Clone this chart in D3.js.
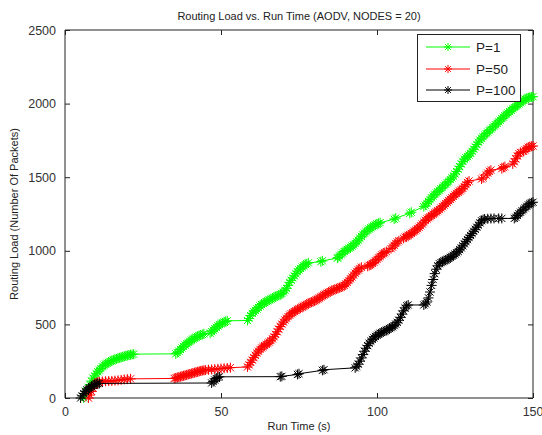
<!DOCTYPE html>
<html>
<head>
<meta charset="utf-8">
<script src="https://cdn.jsdelivr.net/npm/d3@7/dist/d3.min.js"></script>
<style>
  html, body { margin: 0; padding: 0; background: #fff; }
  svg { display: block; font-family: "Liberation Sans", Arial, sans-serif; }
</style>
</head>
<body>
<svg id="chart" width="542" height="435"></svg>
<script>
// Routing load (packets) sampled against simulation run time (s), one series per P value
const seriesNames = ["P=1", "P=50", "P=100"];
const seriesColors = ["#00ff00", "#ff0000", "#000000"];

const loadP1 = [
  [6,0],[6.5,20],[7,45],[7.5,70],[8,92],[8.5,115],[9,135],[9.5,150],[10,165],[10.5,178],[11,190],[11.5,200],
  [12,212],[12.5,222],[13,230],[13.5,236],[14,242],[14.5,248],[15,253],[15.5,258],[16,262],[16.5,266],[17,270],
  [17.5,273],[18,276],[18.5,280],[19,283],[19.5,286],[20,289],[20.5,291],[21,294],[21.5,296],[22,298],
  [35.5,300],[36,308],[36.5,318],[37,330],[37.5,340],[38,350],[38.5,360],[39,368],[39.5,376],[40,385],[40.5,393],
  [41,400],[41.5,407],[42,413],[42.5,418],[43,423],[43.5,428],[44,432],[44.5,436],
  [46.5,440],[47,450],[47.5,460],[48,470],[48.5,480],[49,490],[49.5,498],[50,505],[50.5,510],[51,515],[51.5,520],[52,524],
  [58.5,527],[59,540],[59.5,560],[60,575],[60.5,585],[61,595],[61.5,605],[62,615],[62.5,625],[63,635],[63.5,642],
  [64,648],[64.5,655],[65,660],[65.5,666],[66,672],[66.5,678],[67,684],[67.5,689],[68,694],[68.5,698],[69,702],
  [69.5,710],[70,720],[70.5,732],[71,745],[71.5,765],[72,785],[72.5,800],[73,815],[73.5,830],[74,845],[74.5,858],
  [75,870],[75.5,880],[76,890],[76.5,898],[77,906],[77.5,912],[78,918],
  [82,926],[82.5,932],[87.3,950],[87.5,955],[88,965],[88.5,975],[89,985],[89.5,995],[90,1003],[90.5,1010],
  [91,1017],[91.5,1024],[92,1032],[92.5,1040],[93,1050],[93.5,1060],[94,1072],[94.5,1085],[95,1098],[95.5,1110],
  [96,1120],[96.5,1130],[97,1140],[97.5,1148],[98,1156],[98.5,1163],[99,1170],[99.5,1176],[100,1182],[100.5,1187],[101,1191],
  [105.5,1215],[106,1222],[110.5,1255],[111,1262],
  [115,1300],[115.5,1310],[116,1322],[116.5,1335],[117,1348],[117.5,1360],[118,1372],[118.5,1383],[119,1393],
  [119.5,1402],[120,1412],[120.5,1422],[121,1432],[121.5,1442],[122,1452],[122.5,1462],[123,1472],[123.5,1484],
  [124,1496],[124.5,1508],[125,1522],[125.5,1538],[126,1555],[126.5,1572],[127,1590],[127.5,1608],[128,1622],
  [128.5,1632],[129,1640],[129.5,1650],[130,1662],[130.5,1676],[131,1690],[131.5,1706],[132,1722],[132.5,1738],
  [133,1752],[133.5,1764],[134,1775],[134.5,1786],[135,1796],[135.5,1806],[136,1816],[136.5,1826],[137,1836],
  [137.5,1846],[138,1856],[138.5,1866],[139,1876],[139.5,1888],[140,1898],[140.5,1908],[141,1918],[141.5,1928],
  [142,1937],[142.5,1946],[143,1955],[143.5,1964],[144,1973],[144.5,1981],[145,1990],[145.5,1998],[146,2006],
  [146.5,2014],[147,2022],[147.5,2030],[148,2036],[148.5,2040],[149,2043],[149.5,2045],[150,2047]
];

const loadP50 = [
  [7.5,0],[8,20],[8.5,45],[9,65],[9.5,85],[10,100],[10.5,108],[11,110],[12,112],[13,114],[14,115],[15,116],
  [16,118],[17,120],[18,123],[19,126],[20,128],[21,130],
  [35,133],[35.5,136],[36,139],[36.5,142],[37,145],[37.5,148],[38,151],[38.5,154],[39,157],[39.5,160],[40,163],
  [40.5,166],[41,169],[41.5,172],[42,175],[42.5,178],[43,181],[43.5,184],[44,186],[44.5,188],[45,190],[46,192],
  [47,194],[48,196],[49,198],[50,200],[51,202],[52,204],[53,206],
  [58.5,211],[59,225],[59.5,242],[60,258],[60.5,274],[61,290],[61.5,305],[62,318],[62.5,330],[63,340],[63.5,348],
  [64,356],[64.5,364],[65,372],[65.5,380],[66,390],[66.5,402],[67,416],[67.5,432],[68,450],[68.5,468],[69,486],
  [69.5,502],[70,516],[70.5,530],[71,542],[71.5,553],[72,563],[72.5,572],[73,580],[73.5,587],[74,594],[74.5,600],
  [75,606],[75.5,612],[76,618],[76.5,624],[77,630],[77.5,636],[78,642],[78.5,647],[79,651],[79.5,655],[80,660],
  [80.5,666],[81,672],[81.5,679],[82,686],[82.5,693],[83,700],[83.5,706],[84,712],[84.5,718],[85,723],[85.5,728],
  [86,733],[86.5,738],[87,742],[87.5,746],[88,750],[88.5,754],[89,758],[89.5,765],[90,775],[90.5,786],[91,798],
  [91.5,810],[92,822],[92.5,835],[93,848],[93.5,860],[94,870],[94.5,880],[95,888],
  [97,895],[97.5,900],[98,906],[98.5,914],[99,922],[99.5,932],[100,942],[100.5,952],[101,962],[101.5,972],
  [102,980],[102.5,988],[103,995],[104.5,1015],[105,1025],[105.5,1037],[106,1050],[106.5,1060],[107,1068],
  [108.5,1085],[109,1092],[109.5,1098],[110,1104],[110.5,1110],[111,1118],[111.5,1126],[112,1134],[112.5,1142],
  [113,1150],[113.5,1160],[114,1170],[114.5,1182],[115,1194],[115.5,1206],[116,1216],[116.5,1224],[117,1232],
  [117.5,1240],[118,1248],[118.5,1256],[119,1264],[119.5,1272],[120,1280],[120.5,1290],[121,1300],[121.5,1310],
  [122,1320],[122.5,1330],[123,1340],[123.5,1350],[124,1360],[124.5,1370],[125,1380],[125.5,1390],[126,1398],
  [126.5,1406],[127,1414],[127.5,1424],[128,1436],[128.5,1450],[129,1464],[129.5,1474],
  [133.5,1488],[134,1496],[135,1515],[135.5,1528],[136,1540],[136.5,1548],
  [140,1558],[140.5,1566],[141,1572],[143.5,1590],[144,1605],[144.5,1625],[145,1645],[145.5,1660],[146,1668],
  [147,1675],[147.5,1685],[148,1695],[148.5,1703],[149,1708],[149.5,1710],[150,1712]
];

const loadP100 = [
  [5,0],[5.5,15],[6,30],[6.5,45],[7,55],[7.5,62],[8,70],[8.5,78],[9,85],[9.5,92],[10,96],[10.5,98],[11,99],
  [47,102],[47.5,112],[48,122],[48.5,132],[49,140],[49.5,144],
  [69,145],[69.5,147],[74.5,160],[75,165],[82.5,188],[83,192],
  [93,205],[93.5,215],[94,230],[94.5,250],[95,272],[95.5,295],[96,318],[96.5,338],[97,356],[97.5,372],[98,386],
  [98.5,398],[99,408],[99.5,418],[100,426],[100.5,433],[101,440],[101.5,445],[102,450],[102.5,455],[103,460],
  [103.5,466],[104,472],[104.5,478],[105,484],[105.5,492],[106,502],[106.5,514],[107,528],[107.5,548],[108,570],
  [108.5,592],[109,612],[109.5,626],[110,632],
  [115,632],[115.5,640],[116,652],[116.5,680],[117,720],[117.5,765],[118,805],[118.5,845],[119,875],[119.5,898],
  [120,912],[120.5,920],[121,926],[121.5,932],[122,937],[122.5,942],[123,948],[123.5,955],[124,962],[124.5,970],
  [125,978],[125.5,987],[126,996],[126.5,1008],[127,1020],[127.5,1034],[128,1048],[128.5,1062],[129,1076],
  [129.5,1090],[130,1104],[130.5,1118],[131,1132],[131.5,1146],[132,1160],[132.5,1175],[133,1190],[133.5,1204],
  [134,1212],[134.5,1216],[135.5,1218],[136.5,1219],[137.5,1220],[139,1220],[140,1220],
  [144,1220],[144.5,1228],[145,1240],[145.5,1252],[146,1262],[146.5,1272],[147,1282],[147.5,1292],[148,1302],
  [148.5,1312],[149,1320],[149.5,1326],[150,1330]
];

const xTicks = [0, 50, 100, 150];
const yTicks = [0, 500, 1000, 1500, 2000, 2500];

const allSeries = [loadP1, loadP50, loadP100];

const svg = d3.select("#chart");
const margin = { left: 65, right: 533, top: 30, bottom: 398 };

const x = d3.scaleLinear().domain([0, 150]).range([margin.left, margin.right]);
const y = d3.scaleLinear().domain([0, 2500]).range([margin.bottom, margin.top]);

svg.append("rect")
  .attr("x", margin.left).attr("y", margin.top)
  .attr("width", margin.right - margin.left).attr("height", margin.bottom - margin.top)
  .attr("fill", "#fff");

const tickLen = 5;
const axisColor = "#222";

// Bottom axis with labels, inward ticks
const xAxis = svg.append("g")
  .attr("transform", `translate(0,${margin.bottom})`)
  .call(d3.axisBottom(x).tickValues(xTicks).tickSize(-tickLen).tickPadding(9).tickFormat(d3.format("d")));
// Left axis with labels, inward ticks
const yAxis = svg.append("g")
  .attr("transform", `translate(${margin.left},0)`)
  .call(d3.axisLeft(y).tickValues(yTicks).tickSize(-tickLen).tickPadding(9).tickFormat(d3.format("d")));
// Top and right axes: ticks only
const xTop = svg.append("g")
  .attr("transform", `translate(0,${margin.top})`)
  .call(d3.axisTop(x).tickValues(xTicks).tickSize(-tickLen).tickFormat(""));
const yRight = svg.append("g")
  .attr("transform", `translate(${margin.right},0)`)
  .call(d3.axisRight(y).tickValues(yTicks).tickSize(-tickLen).tickFormat(""));

[xAxis, yAxis, xTop, yRight].forEach(g => {
  g.select(".domain").attr("stroke", axisColor).attr("stroke-width", 1);
  g.selectAll(".tick line").attr("stroke", axisColor);
  g.selectAll(".tick text")
    .attr("fill", "#333")
    .style("font-family", "'Liberation Sans', Arial, sans-serif")
    .style("font-size", "12.5px");
});
// Keep the last x tick label inside the page
xAxis.selectAll(".tick text").filter(d => d === 150)
  .attr("text-anchor", "end").attr("dx", "0.8em");
xAxis.selectAll(".domain").attr("d", `M${margin.left},0H${margin.right}`);
yAxis.selectAll(".domain").attr("d", `M0,${margin.bottom}V${margin.top}`);
xTop.selectAll(".domain").attr("d", `M${margin.left},0H${margin.right}`);
yRight.selectAll(".domain").attr("d", `M0,${margin.bottom}V${margin.top}`);

// Star marker ('*'): a plus overlaid with an x
function starPath(cx, cy, r) {
  const d = r * 0.72;
  return `M${cx - r},${cy}h${2 * r}M${cx},${cy - r}v${2 * r}` +
         `M${cx - d},${cy - d}l${2 * d},${2 * d}M${cx - d},${cy + d}l${2 * d},${-2 * d}`;
}

const line = d3.line().x(d => x(d[0])).y(d => y(d[1]));
const plot = svg.append("g");

allSeries.forEach((data, i) => {
  const g = plot.append("g");
  g.append("path")
    .attr("d", line(data))
    .attr("fill", "none")
    .attr("stroke", seriesColors[i])
    .attr("stroke-width", 1);
  g.append("path")
    .attr("d", data.map(d => starPath(x(d[0]), y(d[1]), 5)).join(""))
    .attr("fill", "none")
    .attr("stroke", seriesColors[i])
    .attr("stroke-width", 1);
});

// Title and axis labels
svg.append("text")
  .attr("x", (margin.left + margin.right) / 2).attr("y", 20)
  .attr("text-anchor", "middle")
  .attr("fill", "#222")
  .style("font-size", "11px")
  .text("Routing Load vs. Run Time (AODV, NODES = 20)");

svg.append("text")
  .attr("x", (margin.left + margin.right) / 2).attr("y", 430)
  .attr("text-anchor", "middle")
  .attr("fill", "#222")
  .style("font-size", "11px")
  .text("Run Time (s)");

svg.append("text")
  .attr("transform", `translate(18,${(margin.top + margin.bottom) / 2}) rotate(-90)`)
  .attr("text-anchor", "middle")
  .attr("fill", "#222")
  .style("font-size", "11px")
  .text("Routing Load (Number Of Packets)");

// Legend
const legend = svg.append("g");
legend.append("rect")
  .attr("x", 417.5).attr("y", 34.5).attr("width", 103).attr("height", 67)
  .attr("fill", "#fff").attr("stroke", "#222").attr("stroke-width", 1);
const rowsY = [47, 69, 90];
seriesNames.forEach((name, i) => {
  legend.append("line")
    .attr("x1", 426).attr("x2", 470).attr("y1", rowsY[i]).attr("y2", rowsY[i])
    .attr("stroke", seriesColors[i]).attr("stroke-width", 1);
  legend.append("path")
    .attr("d", starPath(448, rowsY[i], 4))
    .attr("fill", "none").attr("stroke", seriesColors[i]).attr("stroke-width", 1);
  legend.append("text")
    .attr("x", 476).attr("y", rowsY[i] + 5)
    .attr("fill", "#222")
    .style("font-size", "13.5px")
    .text(name);
});
</script>
</body>
</html>
